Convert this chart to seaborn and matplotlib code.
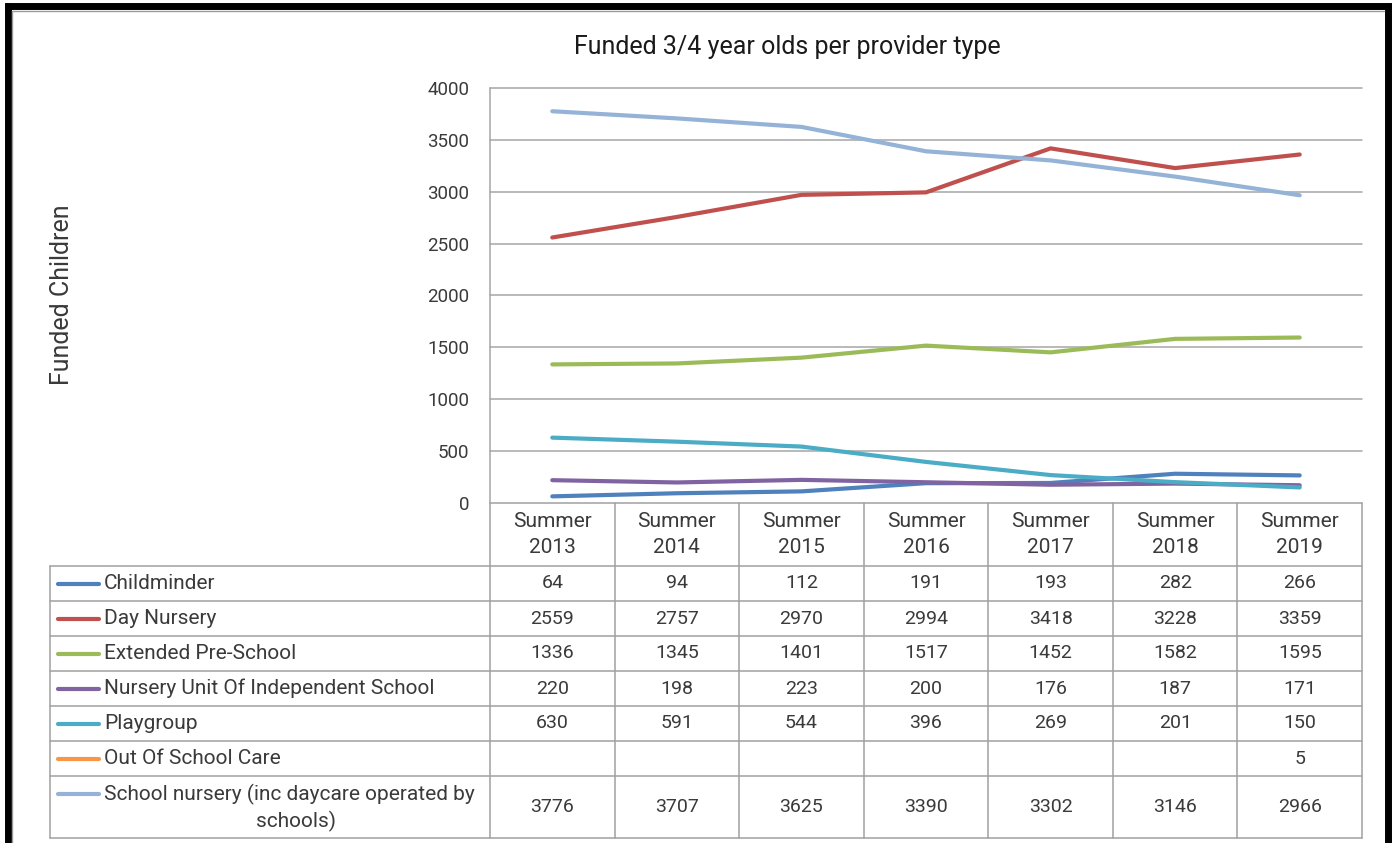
import matplotlib
matplotlib.use("Agg")
import matplotlib.pyplot as plt
import seaborn as sns
import pandas as pd
import numpy as np

# ---------------- data ----------------
periods = ["Summer 2013", "Summer 2014", "Summer 2015", "Summer 2016",
           "Summer 2017", "Summer 2018", "Summer 2019"]
childminder = [64, 94, 112, 191, 193, 282, 266]
day_nursery = [2559, 2757, 2970, 2994, 3418, 3228, 3359]
extended_pre_school = [1336, 1345, 1401, 1517, 1452, 1582, 1595]
nursery_unit_independent = [220, 198, 223, 200, 176, 187, 171]
playgroup = [630, 591, 544, 396, 269, 201, 150]
out_of_school_care = [None, None, None, None, None, None, 5]
school_nursery = [3776, 3707, 3625, 3390, 3302, 3146, 2966]

series_names = ["Childminder", "Day Nursery", "Extended Pre-School",
                "Nursery Unit Of Independent School", "Playgroup",
                "Out Of School Care",
                "School nursery (inc daycare operated by schools)"]
series_values = [childminder, day_nursery, extended_pre_school,
                 nursery_unit_independent, playgroup, out_of_school_care,
                 school_nursery]
series_colors = ["#4F81BD", "#C0504D", "#9BBB59", "#8064A2", "#4BACC6",
                 "#F79646", "#95B3D7"]
yticks = [0, 500, 1000, 1500, 2000, 2500, 3000, 3500, 4000]
title = "Funded 3/4 year olds per provider type"
ylabel = "Funded Children"

# ---------------- styling ----------------
sns.set_theme(style="white")
plt.rcParams["font.family"] = ["Roboto", "DejaVu Sans"]
TXT = "#3a3a3a"
GRID = "#A6A6A6"

W, H = 1400, 843
fig = plt.figure(figsize=(W / 100, H / 100), dpi=100)
fig.patch.set_facecolor("white")

# overlay axes in pixel coordinates (frame, table, texts)
ov = fig.add_axes([0, 0, 1, 1])
ov.set_xlim(0, W)
ov.set_ylim(H, 0)
ov.axis("off")
ov.patch.set_alpha(0)

# plot area
px0, px1, py0, py1 = 490, 1362, 88, 503
ax = fig.add_axes([px0 / W, 1 - py1 / H, (px1 - px0) / W, (py1 - py0) / H])
ax.patch.set_alpha(0)

rows = []
for name, vals in zip(series_names, series_values):
    for i, v in enumerate(vals):
        if v is not None:
            rows.append({"idx": i, "value": v, "series": name})
df = pd.DataFrame(rows)

sns.lineplot(data=df, x="idx", y="value", hue="series", hue_order=series_names,
             palette=dict(zip(series_names, series_colors)), linewidth=3.0,
             legend=False, sort=False, ax=ax, solid_capstyle="round")

ax.set_xlim(-0.5, len(periods) - 0.5)
ax.set_ylim(0, 4000)
ax.set_yticks(yticks)
ax.set_yticklabels([str(t) for t in yticks])
ax.set_xticks([])
ax.set_xlabel("")
ax.set_ylabel("")
ax.grid(False)
for t in yticks[1:]:
    ax.axhline(t, color=GRID, lw=1.1, zorder=0, clip_on=False)
for s in ["top", "right", "bottom"]:
    ax.spines[s].set_visible(False)
ax.spines["left"].set_color(GRID)
ax.spines["left"].set_linewidth(1.1)
ax.tick_params(axis="y", length=0, pad=15, labelsize=13.5, labelcolor=TXT)

# title and y label
ov.text(787, 47, title, ha="center", va="center", fontsize=18, color="#1a1a1a")
ov.text(62, 295, ylabel, ha="center", va="center", rotation=90, fontsize=18,
        color=TXT)

# ---------------- data table ----------------
col_edges = np.linspace(px0, px1, len(periods) + 1)
row_edges = [503, 566, 601, 636, 671, 706, 741, 776, 838]
tbl_left = 50
LC = "#A0A0A0"
lw = 1.1
# horizontal lines
ov.plot([px0, px1], [row_edges[0]] * 2, color=LC, lw=lw)
for y in row_edges[1:]:
    ov.plot([tbl_left, px1], [y, y], color=LC, lw=lw)
# vertical lines
for x in col_edges:
    ov.plot([x, x], [row_edges[0], row_edges[-1]], color=LC, lw=lw)
ov.plot([tbl_left, tbl_left], [row_edges[1], row_edges[-1]], color=LC, lw=lw)

# header
centers = (col_edges[:-1] + col_edges[1:]) / 2
for c, p in zip(centers, periods):
    ov.text(c, (row_edges[0] + row_edges[1]) / 2, p.replace(" ", "\n"),
            ha="center", va="center", fontsize=15, color=TXT, linespacing=1.45)

# rows
LBL = 15
for r, (name, vals, col) in enumerate(zip(series_names, series_values, series_colors)):
    y0, y1 = row_edges[r + 1], row_edges[r + 2]
    yc = (y0 + y1) / 2
    ky = yc if r < 6 else 794
    ov.plot([58, 99], [ky, ky], color=col, lw=3.0, solid_capstyle="round")
    if r < 6:
        ov.text(104, yc, name, ha="left", va="center", fontsize=LBL, color=TXT)
    else:
        ov.text(104, 794, "School nursery (inc daycare operated by", ha="left",
                va="center", fontsize=LBL, color=TXT)
        ov.text(296, 821, "schools)", ha="center", va="center", fontsize=LBL,
                color=TXT)
    for c, v in zip(centers, vals):
        if v is not None:
            ov.text(c, yc, str(v), ha="center", va="center", fontsize=14,
                    color=TXT)

# ---------------- outer frame ----------------
ov.plot([8, 1388], [6, 6], color="black", lw=5, solid_capstyle="projecting")
ov.plot([8, 8], [6, H + 5], color="black", lw=5)
ov.plot([1388, 1388], [6, H + 5], color="black", lw=5)
ov.plot([12, 1384], [11, 11], color="#9a9a9a", lw=1)
ov.plot([12, 12], [11, H + 5], color="#9a9a9a", lw=1)

fig.savefig("out.png", dpi=100)
